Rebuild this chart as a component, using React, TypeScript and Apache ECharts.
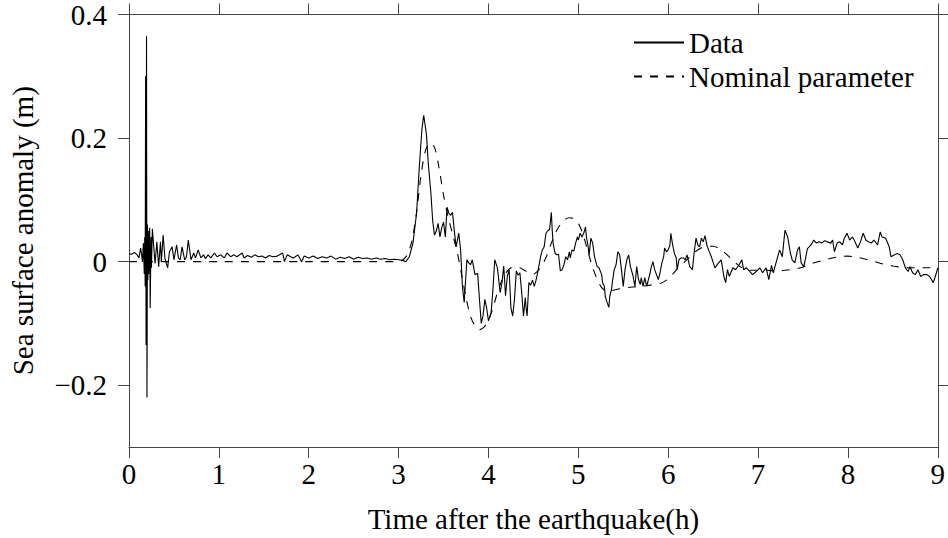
import React, { useEffect, useRef } from "react";
import * as echarts from "echarts";

const xTicks = [0, 1, 2, 3, 4, 5, 6, 7, 8, 9];
const yTicks = [-0.2, 0, 0.2, 0.4];
const legendNames = ["Data", "Nominal parameter"];

const dataSeries: [number, number][] = [
  [0.0, 0.013], [0.03, 0.012], [0.06, 0.015], [0.09, 0.011], [0.11, 0.006], [0.13, 0.022], [0.15, 0.0], [0.16, 0.03],
  [0.17, -0.02], [0.175, 0.04], [0.18, -0.04], [0.185, 0.3], [0.19, -0.135], [0.195, 0.365], [0.2, -0.22], [0.205, 0.06],
  [0.21, -0.03], [0.215, 0.05], [0.22, -0.02], [0.23, 0.055], [0.236, -0.075], [0.245, 0.04], [0.25, -0.01], [0.26, 0.053],
  [0.29, -0.003], [0.31, 0.032], [0.33, -0.008], [0.35, 0.032], [0.36, 0.0], [0.38, 0.043], [0.4, 0.005], [0.43, -0.01],
  [0.45, 0.016], [0.48, 0.024], [0.5, 0.003], [0.53, 0.027], [0.55, 0.006], [0.57, 0.003], [0.59, 0.024], [0.62, 0.003],
  [0.64, 0.008], [0.66, 0.035], [0.69, 0.003], [0.72, 0.014], [0.74, 0.006], [0.77, 0.019], [0.8, 0.006], [0.83, 0.011],
  [0.85, 0.005], [0.88, 0.011], [0.91, 0.006], [0.95, 0.014], [0.98, 0.008], [1.02, 0.011], [1.06, 0.006], [1.09, 0.014],
  [1.13, 0.008], [1.17, 0.011], [1.2, 0.008], [1.26, 0.014], [1.28, 0.006], [1.32, 0.01], [1.36, 0.007], [1.4, 0.011],
  [1.44, 0.008], [1.48, 0.009], [1.52, 0.006], [1.56, 0.01], [1.6, 0.008], [1.65, 0.009], [1.71, 0.014], [1.73, 0.0],
  [1.76, 0.011], [1.8, 0.008], [1.83, 0.006], [1.88, 0.011], [1.92, 0.0], [1.95, 0.009], [2.0, 0.006], [2.05, 0.009],
  [2.1, 0.005], [2.15, 0.008], [2.2, 0.006], [2.25, 0.009], [2.3, 0.004], [2.35, 0.007], [2.4, 0.005], [2.45, 0.008],
  [2.5, 0.004], [2.55, 0.007], [2.6, 0.005], [2.65, 0.006], [2.7, 0.004], [2.75, 0.006], [2.8, 0.004], [2.85, 0.005],
  [2.9, 0.003], [2.95, 0.004], [3.0, 0.003], [3.05, 0.002], [3.08, 0.0], [3.12, 0.008], [3.16, 0.03], [3.2, 0.078],
  [3.23, 0.152], [3.26, 0.215], [3.28, 0.237], [3.31, 0.206], [3.33, 0.16], [3.36, 0.11], [3.38, 0.065], [3.4, 0.043],
  [3.42, 0.05], [3.44, 0.062], [3.46, 0.04], [3.48, 0.055], [3.5, 0.064], [3.52, 0.04], [3.54, 0.088], [3.56, 0.078],
  [3.58, 0.075], [3.6, 0.08], [3.62, 0.05], [3.64, 0.024], [3.67, 0.046], [3.69, 0.019], [3.71, -0.04], [3.73, -0.066],
  [3.76, 0.003], [3.78, -0.002], [3.8, -0.005], [3.82, 0.003], [3.85, -0.021], [3.88, -0.019], [3.9, -0.061], [3.92, -0.1],
  [3.94, -0.087], [3.96, -0.061], [3.98, -0.075], [4.0, -0.096], [4.03, -0.082], [4.05, -0.045], [4.07, 0.003], [4.1, -0.01],
  [4.13, -0.05], [4.15, -0.035], [4.17, -0.007], [4.19, -0.055], [4.21, -0.024], [4.23, -0.013], [4.25, -0.075], [4.27, -0.088],
  [4.29, -0.06], [4.31, -0.015], [4.33, -0.022], [4.35, -0.018], [4.37, -0.05], [4.39, -0.088], [4.41, -0.058], [4.42, -0.077],
  [4.43, -0.088], [4.45, -0.034], [4.47, -0.038], [4.49, -0.03], [4.51, -0.04], [4.53, -0.03], [4.55, -0.016], [4.58, 0.008],
  [4.6, 0.019], [4.62, 0.024], [4.64, 0.046], [4.66, 0.05], [4.68, 0.052], [4.7, 0.08], [4.71, 0.05], [4.72, 0.03],
  [4.74, 0.014], [4.76, 0.011], [4.78, 0.012], [4.8, -0.015], [4.82, -0.013], [4.84, -0.005], [4.86, 0.008], [4.88, 0.003],
  [4.9, 0.016], [4.91, 0.006], [4.93, 0.019], [4.95, 0.017], [4.97, 0.03], [4.99, 0.04], [5.0, 0.035], [5.02, 0.046],
  [5.04, 0.04], [5.06, 0.046], [5.08, 0.056], [5.09, 0.04], [5.11, 0.024], [5.12, 0.011], [5.14, 0.038], [5.16, 0.03],
  [5.18, 0.008], [5.21, -0.008], [5.23, -0.01], [5.26, -0.021], [5.27, -0.034], [5.29, -0.04], [5.3, -0.056], [5.32, -0.066],
  [5.34, -0.074], [5.35, -0.056], [5.37, -0.045], [5.38, -0.032], [5.4, -0.013], [5.42, -0.005], [5.44, 0.016], [5.46, 0.011],
  [5.48, -0.013], [5.5, -0.04], [5.52, -0.013], [5.54, 0.003], [5.56, 0.011], [5.58, -0.008], [5.59, -0.013], [5.61, -0.024],
  [5.63, -0.04], [5.65, -0.008], [5.67, -0.029], [5.69, -0.037], [5.7, -0.026], [5.72, -0.04], [5.74, -0.026], [5.76, -0.04],
  [5.78, -0.029], [5.8, -0.018], [5.81, -0.01], [5.83, 0.0], [5.85, -0.013], [5.87, -0.021], [5.89, -0.029], [5.91, -0.018],
  [5.93, -0.002], [5.95, 0.008], [5.96, 0.022], [5.98, 0.016], [6.0, 0.019], [6.02, 0.027], [6.03, 0.046], [6.05, 0.027],
  [6.07, 0.013], [6.09, 0.006], [6.1, -0.013], [6.12, 0.003], [6.14, 0.006], [6.17, 0.006], [6.19, 0.003], [6.21, 0.011],
  [6.24, -0.008], [6.27, -0.013], [6.29, 0.016], [6.31, 0.038], [6.33, 0.027], [6.35, 0.024], [6.37, 0.038], [6.39, 0.032],
  [6.41, 0.042], [6.43, 0.027], [6.46, 0.015], [6.48, 0.008], [6.52, -0.01], [6.55, -0.004], [6.59, 0.003], [6.62, -0.024],
  [6.64, -0.034], [6.66, -0.013], [6.68, -0.024], [6.72, -0.01], [6.75, -0.013], [6.79, -0.005], [6.82, 0.003], [6.84, -0.013],
  [6.87, -0.01], [6.91, -0.016], [6.94, -0.021], [6.98, -0.016], [7.02, -0.01], [7.05, -0.018], [7.09, -0.01], [7.12, -0.029],
  [7.15, -0.006], [7.17, -0.018], [7.2, -0.002], [7.24, 0.019], [7.27, 0.008], [7.3, 0.051], [7.33, 0.04], [7.36, 0.014],
  [7.38, 0.003], [7.41, -0.002], [7.44, 0.019], [7.46, 0.024], [7.48, -0.002], [7.51, -0.008], [7.55, 0.021], [7.59, 0.027],
  [7.62, 0.035], [7.65, 0.03], [7.68, 0.032], [7.71, 0.03], [7.74, 0.034], [7.77, 0.032], [7.81, 0.03], [7.83, 0.035],
  [7.85, 0.016], [7.88, 0.03], [7.91, 0.032], [7.94, 0.027], [7.96, 0.038], [7.99, 0.046], [8.02, 0.035], [8.05, 0.04],
  [8.07, 0.035], [8.11, 0.022], [8.14, 0.032], [8.17, 0.046], [8.2, 0.035], [8.23, 0.032], [8.26, 0.03], [8.29, 0.035],
  [8.33, 0.027], [8.36, 0.048], [8.38, 0.04], [8.42, 0.038], [8.46, 0.024], [8.48, 0.008], [8.52, 0.011], [8.55, 0.013],
  [8.58, 0.011], [8.61, 0.003], [8.64, -0.01], [8.67, -0.016], [8.69, -0.008], [8.72, -0.018], [8.75, -0.021], [8.78, -0.013],
  [8.81, -0.024], [8.84, -0.021], [8.88, -0.021], [8.91, -0.024], [8.95, -0.034], [8.99, -0.016], [9.0, -0.01],
];

const nominalSeries: [number, number][] = [
  [0.0, 0.0], [1.0, 0.0], [2.0, 0.0], [3.0, 0.0], [3.05, 0.003], [3.1, 0.012], [3.15, 0.035], [3.2, 0.08],
  [3.25, 0.14], [3.3, 0.18], [3.35, 0.192], [3.4, 0.185], [3.45, 0.152], [3.5, 0.108], [3.55, 0.073], [3.6, 0.045],
  [3.65, 0.017], [3.7, -0.02], [3.75, -0.058], [3.8, -0.088], [3.85, -0.104], [3.9, -0.11], [3.95, -0.106], [4.0, -0.095],
  [4.05, -0.075], [4.1, -0.05], [4.15, -0.03], [4.2, -0.017], [4.25, -0.01], [4.3, -0.008], [4.35, -0.01], [4.4, -0.014],
  [4.45, -0.018], [4.5, -0.02], [4.55, -0.015], [4.6, -0.005], [4.65, 0.01], [4.7, 0.03], [4.75, 0.048], [4.8, 0.06],
  [4.85, 0.068], [4.9, 0.071], [4.95, 0.07], [5.0, 0.062], [5.05, 0.045], [5.1, 0.02], [5.15, -0.005], [5.2, -0.025],
  [5.25, -0.04], [5.3, -0.047], [5.35, -0.048], [5.4, -0.046], [5.5, -0.043], [5.6, -0.041], [5.7, -0.04], [5.8, -0.038],
  [5.9, -0.036], [6.0, -0.028], [6.1, -0.012], [6.2, 0.002], [6.3, 0.016], [6.4, 0.024], [6.5, 0.025], [6.6, 0.018],
  [6.7, 0.005], [6.8, -0.008], [6.9, -0.014], [7.0, -0.014], [7.1, -0.014], [7.2, -0.015], [7.3, -0.014], [7.4, -0.012],
  [7.5, -0.009], [7.6, -0.003], [7.7, 0.001], [7.8, 0.005], [7.9, 0.008], [8.0, 0.009], [8.1, 0.007], [8.2, 0.004],
  [8.3, 0.0], [8.4, -0.004], [8.5, -0.007], [8.6, -0.009], [8.7, -0.01], [8.8, -0.01], [8.9, -0.01], [9.0, -0.01],
];

export default function App() {
  const ref = useRef<HTMLDivElement>(null);
  useEffect(() => {
    const chart = echarts.init(ref.current!, null, { renderer: "svg" });
    const font = "Liberation Serif";
    const axisColor = "#444";
    const fs = 29;
    const lineCommon = { show: true, onZero: false, lineStyle: { color: axisColor, width: 1 } };
    const tickCommon = { show: true, inside: false, length: 11, lineStyle: { color: axisColor, width: 1 } };
    const fmt = (v: number) => (v < 0 ? "\u2212" + String(Math.abs(v)) : String(v));
    chart.setOption({
      animation: false,
      backgroundColor: "#fff",
      grid: { left: 128, right: 7, top: 12, bottom: 88 },
      legend: {
        orient: "vertical",
        left: 628,
        top: 23,
        padding: 5,
        itemWidth: 50,
        itemHeight: 14,
        itemGap: 5,
        data: legendNames,
        itemStyle: { color: "transparent", borderColor: "transparent", borderWidth: 0, opacity: 0 },
        textStyle: { fontFamily: font, fontSize: fs, color: "#000", lineHeight: 29 },
      },
      xAxis: [
        {
          type: "value",
          min: xTicks[0],
          max: xTicks[xTicks.length - 1],
          interval: 1,
          position: "bottom",
          name: "Time after the earthquake(h)",
          nameLocation: "middle",
          nameGap: 57,
          nameTextStyle: { fontFamily: font, fontSize: fs, color: "#000" },
          axisLine: lineCommon,
          axisTick: tickCommon,
          axisLabel: { margin: 12, fontFamily: font, fontSize: fs, color: "#000" },
          splitLine: { show: false },
        },
        {
          type: "value",
          min: xTicks[0],
          max: xTicks[xTicks.length - 1],
          interval: 1,
          position: "top",
          axisLine: lineCommon,
          axisTick: tickCommon,
          axisLabel: { show: false },
          splitLine: { show: false },
        },
      ],
      yAxis: [
        {
          type: "value",
          min: -0.3,
          max: 0.4,
          position: "left",
          name: "Sea surface anomaly (m)",
          nameLocation: "middle",
          nameGap: 92,
          nameRotate: 90,
          nameTextStyle: { fontFamily: font, fontSize: fs, color: "#000" },
          axisLine: lineCommon,
          axisTick: { ...tickCommon, customValues: yTicks },
          axisLabel: { customValues: yTicks, formatter: fmt, margin: 22, fontFamily: font, fontSize: fs, color: "#000" },
          splitLine: { show: false },
        },
        {
          type: "value",
          min: -0.3,
          max: 0.4,
          position: "right",
          axisLine: lineCommon,
          axisTick: { ...tickCommon, customValues: yTicks },
          axisLabel: { show: false },
          splitLine: { show: false },
        },
      ],
      series: [
        {
          name: legendNames[0],
          type: "line",
          data: dataSeries,
          symbol: "none",
          xAxisIndex: 0,
          yAxisIndex: 0,
          lineStyle: { color: "#000", width: 1.1 },
          itemStyle: { color: "#000" },
        },
        {
          name: legendNames[1],
          type: "line",
          data: nominalSeries,
          symbol: "none",
          smooth: 0.3,
          xAxisIndex: 0,
          yAxisIndex: 0,
          lineStyle: { color: "#000", width: 1.1, type: [8, 8] },
          itemStyle: { color: "#000" },
        },
      ],
    });
    return () => chart.dispose();
  }, []);
  return <div ref={ref} style={{ position: "absolute", left: 0, top: 0, width: 948, height: 538 }} />;
}
